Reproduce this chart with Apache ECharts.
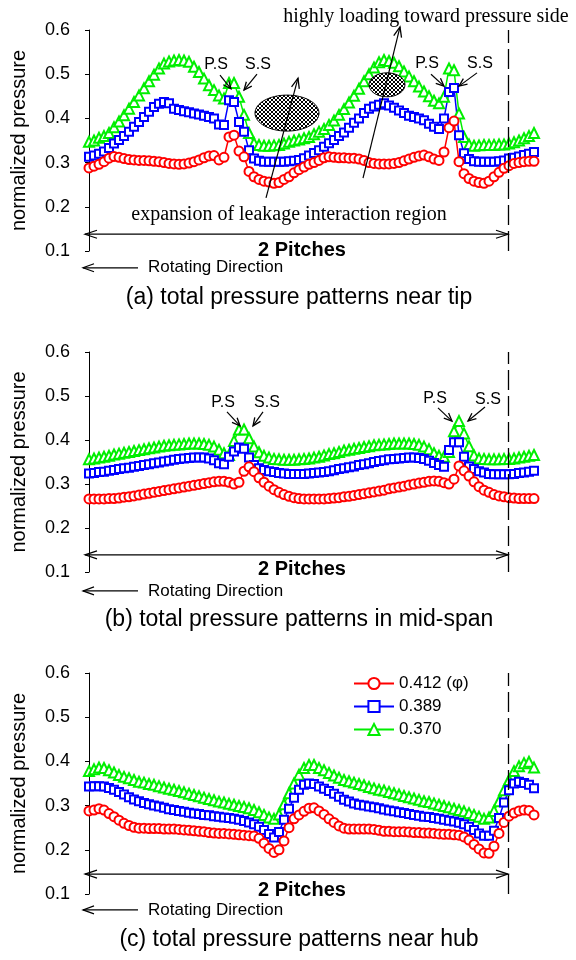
<!DOCTYPE html>
<html lang="en">
<head>
<meta charset="UTF-8">
<title>normalized pressure</title>
<script src="https://cdn.jsdelivr.net/npm/echarts/dist/echarts.min.js"></script>
<style>
  body{ margin:0; background:#fff; }
  #main{ width:576px; height:960px; }
</style>
</head>
<body>
<div id="main"></div>
<script>
// stations across 2 pitches (index), three flow coefficients per span
let xIdx = Array.from({length: 90}, (_, i) => i);
let seriesNames = ['0.412 (\u03c6)', '0.389', '0.370'];
let yTicks = [0.1, 0.2, 0.3, 0.4, 0.5, 0.6];

// (a) near tip
let tipR = [0.288,0.292,0.296,0.302,0.310,0.314,0.312,0.309,0.307,0.306,
            0.305,0.305,0.304,0.303,0.302,0.300,0.298,0.297,0.296,0.297,
            0.299,0.302,0.306,0.311,0.315,0.316,0.306,0.312,0.358,0.362,
            0.326,0.313,0.280,0.268,0.262,0.258,0.256,0.253,0.255,0.262,
            0.268,0.277,0.284,0.290,0.296,0.300,0.305,0.311,0.313,0.312,
            0.311,0.311,0.310,0.310,0.308,0.305,0.300,0.298,0.297,0.297,
            0.297,0.298,0.300,0.304,0.308,0.312,0.315,0.317,0.313,0.308,
            0.305,0.324,0.379,0.394,0.302,0.275,0.264,0.258,0.255,0.253,
            0.258,0.268,0.278,0.287,0.293,0.298,0.300,0.302,0.303,0.303];
let tipB = [0.313,0.316,0.320,0.325,0.333,0.343,0.351,0.360,0.370,0.381,
            0.392,0.403,0.415,0.426,0.433,0.437,0.434,0.422,0.419,0.416,
            0.414,0.411,0.409,0.406,0.403,0.400,0.386,0.385,0.441,0.437,
            0.392,0.370,0.328,0.309,0.304,0.302,0.302,0.302,0.302,0.302,
            0.303,0.304,0.306,0.310,0.316,0.322,0.328,0.336,0.344,0.351,
            0.360,0.368,0.379,0.390,0.400,0.412,0.422,0.427,0.431,0.434,
            0.429,0.424,0.418,0.412,0.406,0.403,0.400,0.396,0.388,0.381,
            0.376,0.400,0.460,0.469,0.362,0.321,0.308,0.303,0.302,0.302,
            0.302,0.302,0.303,0.305,0.309,0.311,0.314,0.317,0.320,0.324];
let tipG = [0.347,0.350,0.356,0.360,0.367,0.380,0.393,0.407,0.422,0.437,
            0.452,0.468,0.484,0.499,0.513,0.524,0.529,0.531,0.532,0.531,
            0.528,0.517,0.505,0.490,0.475,0.464,0.452,0.445,0.480,0.480,
            0.449,0.408,0.367,0.344,0.340,0.338,0.338,0.339,0.340,0.343,
            0.347,0.350,0.352,0.355,0.358,0.364,0.370,0.376,0.385,0.395,
            0.408,0.421,0.436,0.451,0.467,0.484,0.500,0.515,0.527,0.532,
            0.530,0.526,0.518,0.506,0.495,0.484,0.472,0.461,0.450,0.440,
            0.434,0.449,0.513,0.509,0.411,0.358,0.341,0.338,0.339,0.340,
            0.340,0.340,0.341,0.341,0.343,0.346,0.350,0.355,0.360,0.367];

// (b) mid-span
let midR = [0.266,0.266,0.266,0.266,0.267,0.267,0.268,0.270,0.271,0.273,
            0.275,0.277,0.279,0.281,0.283,0.285,0.287,0.289,0.291,0.293,
            0.295,0.297,0.299,0.301,0.303,0.305,0.306,0.306,0.304,0.300,
            0.304,0.329,0.339,0.328,0.314,0.304,0.295,0.287,0.281,0.276,
            0.272,0.269,0.267,0.266,0.266,0.266,0.266,0.266,0.267,0.268,
            0.269,0.271,0.272,0.274,0.276,0.278,0.280,0.282,0.284,0.286,
            0.289,0.291,0.293,0.295,0.298,0.300,0.302,0.304,0.306,0.307,
            0.306,0.303,0.300,0.311,0.341,0.330,0.318,0.305,0.294,0.286,
            0.281,0.276,0.273,0.271,0.269,0.268,0.267,0.267,0.267,0.267];
let midB = [0.324,0.325,0.327,0.328,0.330,0.332,0.334,0.336,0.337,0.339,
            0.341,0.343,0.345,0.347,0.349,0.351,0.353,0.355,0.357,0.358,
            0.359,0.360,0.360,0.360,0.358,0.354,0.347,0.345,0.362,0.374,
            0.383,0.380,0.360,0.343,0.336,0.332,0.329,0.327,0.325,0.324,
            0.323,0.323,0.323,0.323,0.324,0.325,0.326,0.327,0.329,0.331,
            0.334,0.336,0.338,0.340,0.343,0.345,0.347,0.350,0.352,0.354,
            0.356,0.357,0.358,0.359,0.360,0.360,0.359,0.357,0.353,0.348,
            0.343,0.339,0.377,0.395,0.395,0.362,0.340,0.334,0.329,0.326,
            0.323,0.322,0.322,0.322,0.322,0.323,0.325,0.326,0.328,0.330];
let midG = [0.356,0.358,0.360,0.362,0.364,0.367,0.369,0.371,0.373,0.375,
            0.377,0.379,0.381,0.383,0.385,0.387,0.388,0.389,0.390,0.391,
            0.392,0.392,0.392,0.391,0.389,0.385,0.378,0.370,0.366,0.398,
            0.424,0.424,0.404,0.385,0.372,0.364,0.360,0.357,0.356,0.355,
            0.355,0.355,0.356,0.357,0.358,0.360,0.362,0.365,0.368,0.370,
            0.373,0.376,0.378,0.380,0.382,0.384,0.386,0.388,0.389,0.390,
            0.391,0.392,0.392,0.392,0.392,0.391,0.389,0.385,0.379,0.370,
            0.364,0.362,0.373,0.420,0.443,0.415,0.386,0.365,0.358,0.357,
            0.356,0.356,0.356,0.357,0.357,0.358,0.360,0.362,0.364,0.366];

// (c) near hub
let hubR = [0.288,0.290,0.293,0.290,0.282,0.275,0.267,0.260,0.255,0.251,
            0.249,0.249,0.248,0.248,0.248,0.247,0.247,0.247,0.246,0.245,
            0.244,0.243,0.242,0.241,0.239,0.238,0.237,0.237,0.236,0.235,
            0.234,0.233,0.232,0.231,0.226,0.215,0.203,0.194,0.200,0.220,
            0.250,0.270,0.279,0.287,0.294,0.295,0.288,0.280,0.270,0.262,
            0.254,0.249,0.247,0.247,0.247,0.247,0.247,0.246,0.244,0.242,
            0.242,0.241,0.241,0.241,0.240,0.239,0.239,0.238,0.238,0.237,
            0.236,0.235,0.235,0.234,0.233,0.229,0.222,0.212,0.202,0.193,
            0.192,0.208,0.237,0.262,0.276,0.283,0.288,0.290,0.289,0.279];
let hubB = [0.343,0.344,0.344,0.343,0.340,0.336,0.331,0.325,0.319,0.314,
            0.310,0.306,0.303,0.300,0.298,0.295,0.292,0.290,0.288,0.286,
            0.284,0.282,0.281,0.279,0.278,0.276,0.275,0.273,0.272,0.270,
            0.268,0.265,0.262,0.258,0.252,0.245,0.236,0.228,0.240,0.268,
            0.293,0.318,0.336,0.347,0.350,0.349,0.343,0.338,0.333,0.327,
            0.320,0.313,0.309,0.305,0.302,0.300,0.298,0.296,0.294,0.291,
            0.289,0.287,0.285,0.283,0.281,0.279,0.277,0.275,0.274,0.272,
            0.270,0.268,0.266,0.264,0.261,0.258,0.252,0.245,0.237,0.232,
            0.232,0.243,0.272,0.307,0.335,0.350,0.354,0.351,0.347,0.339];
let hubG = [0.378,0.382,0.386,0.385,0.380,0.375,0.369,0.365,0.362,0.358,
            0.354,0.352,0.349,0.347,0.344,0.341,0.338,0.336,0.333,0.330,
            0.327,0.324,0.321,0.318,0.315,0.312,0.309,0.307,0.304,0.302,
            0.299,0.297,0.294,0.290,0.285,0.279,0.273,0.270,0.280,0.303,
            0.328,0.350,0.370,0.385,0.392,0.392,0.385,0.380,0.374,0.368,
            0.363,0.358,0.355,0.352,0.349,0.346,0.342,0.339,0.336,0.334,
            0.331,0.328,0.325,0.322,0.319,0.316,0.313,0.310,0.308,0.305,
            0.302,0.299,0.296,0.293,0.290,0.287,0.283,0.279,0.275,0.270,
            0.273,0.288,0.310,0.335,0.358,0.378,0.389,0.396,0.399,0.386];

let panels = [[tipR, tipB, tipG], [midR, midB, midG], [hubR, hubB, hubG]];
let titles = ['(a) total pressure patterns near tip',
              '(b) total pressure patterns in mid-span',
              '(c) total pressure patterns near hub'];
let pitchEnd = 83.8;

var sans = '"Liberation Sans", Arial, sans-serif';
var serif = '"Liberation Serif", "Times New Roman", serif';
var colors = ['#ff0000', '#0000ff', '#00ee00'];
var symbols = ['emptyCircle', 'emptyRect', 'emptyTriangle'];
var symSizes = [9, 8, 10];
var gridTops = [30, 352, 673];
var gridHeights = [221, 220, 221];

var myChart = echarts.init(document.getElementById('main'));

var grids = [], xAxes = [], yAxes = [], series = [];
panels.forEach(function (set, k) {
  grids.push({ left: 85, top: gridTops[k], width: 460, height: gridHeights[k] });
  xAxes.push({ gridIndex: k, type: 'value', min: -0.8, max: 91.2, show: false });
  yAxes.push({
    gridIndex: k, type: 'value', min: yTicks[0], max: yTicks[yTicks.length - 1], interval: 0.1,
    name: 'normalized pressure', nameLocation: 'middle', nameGap: 56,
    nameTextStyle: { fontSize: 20, color: '#000', fontFamily: sans },
    axisLine: { show: true, lineStyle: { color: '#000', width: 1 } },
    axisTick: { show: true, length: 4, lineStyle: { color: '#000' } },
    axisLabel: { fontSize: 18, color: '#000', fontFamily: sans, margin: 15,
                 formatter: function (v) { return v.toFixed(1); } },
    splitLine: { show: false }
  });
  // draw green first, red last
  [2, 1, 0].forEach(function (s) {
    var item = {
      type: 'line', name: seriesNames[s], xAxisIndex: k, yAxisIndex: k,
      data: set[s].map(function (v, i) { return [xIdx[i], v]; }),
      symbol: symbols[s], symbolSize: symSizes[s],
      lineStyle: { color: colors[s], width: 1.5 },
      itemStyle: { color: colors[s], borderColor: colors[s], borderWidth: 1.3 },
      animation: false, silent: true
    };
    if (s === 2) {
      item.markLine = {
        silent: true, symbol: 'none', label: { show: false },
        lineStyle: { color: '#000', type: [20, 6], width: 1.3 },
        data: [{ xAxis: pitchEnd }]
      };
    }
    series.push(item);
  });
});

option = {
  backgroundColor: '#fff',
  animation: false,
  grid: grids,
  xAxis: xAxes,
  yAxis: yAxes,
  legend: {
    data: seriesNames, orient: 'vertical', left: 348, top: 670,
    itemWidth: 40, itemHeight: 14, itemGap: 6, selectedMode: false,
    textStyle: { fontSize: 17, color: '#000', fontFamily: sans }
  },
  series: series
};
myChart.setOption(option);

// ---- annotations ----
var pitchY = [0.138, 0.139, 0.145];
var pitchLabelY = [0.102, 0.105, 0.109];
var rotY = [0.062, 0.057, 0.064];
var titleY = [-0.006, -0.009, -0.004];
var psLabels = [
  [[25.4, 0.521, 'P.S'], [33.8, 0.521, 'S.S'], [67.6, 0.525, 'P.S'], [78.2, 0.525, 'S.S']],
  [[26.8, 0.486, 'P.S'], [35.6, 0.486, 'S.S'], [69.2, 0.493, 'P.S'], [79.8, 0.491, 'S.S']],
  []
];
var psArrows = [
  [[26.2, 0.498, 28.4, 0.467], [33.6, 0.500, 31.0, 0.464], [68.4, 0.500, 71.0, 0.473], [77.6, 0.503, 74.0, 0.473]],
  [[27.6, 0.464, 30.2, 0.432], [34.8, 0.464, 32.8, 0.432], [69.8, 0.473, 72.6, 0.443], [79.2, 0.475, 75.8, 0.443]],
  []
];

function px(k, x, y) { return myChart.convertToPixel({ gridIndex: k }, [x, y]); }

var g = [];
function addLine(p1, p2, w) {
  g.push({ type: 'line', z: 100, silent: true,
    shape: { x1: p1[0], y1: p1[1], x2: p2[0], y2: p2[1] },
    style: { stroke: '#000', lineWidth: w || 1 } });
}
function addHead(tip, from, len, half, w) {
  var dx = tip[0] - from[0], dy = tip[1] - from[1];
  var d = Math.sqrt(dx * dx + dy * dy);
  var ux = dx / d, uy = dy / d;
  var bx = tip[0] - ux * len, by = tip[1] - uy * len;
  g.push({ type: 'polyline', z: 100, silent: true,
    shape: { points: [[bx - uy * half, by + ux * half], tip, [bx + uy * half, by - ux * half]] },
    style: { stroke: '#000', fill: null, lineWidth: w || 1.2 } });
}
function addText(p, text, size, opts) {
  opts = opts || {};
  g.push({ type: 'text', z: 100, silent: true, x: p[0], y: p[1],
    style: { text: text, fill: '#000', fontSize: size, fontFamily: opts.family || sans,
      fontWeight: opts.weight || 'normal',
      align: opts.align || 'center', textAlign: opts.align || 'center',
      verticalAlign: 'middle', textVerticalAlign: 'middle' } });
}

// cross hatch for the leakage blobs
var hatch = document.createElement('canvas');
hatch.width = 4; hatch.height = 4;
var hc = hatch.getContext('2d');
hc.fillStyle = '#fff'; hc.fillRect(0, 0, 4, 4);
hc.strokeStyle = '#000'; hc.lineWidth = 1;
hc.beginPath(); hc.moveTo(0, 0); hc.lineTo(4, 4); hc.moveTo(4, 0); hc.lineTo(0, 4); hc.stroke();

[0, 1, 2].forEach(function (k) {
  // 2 pitches double arrow
  var a1 = px(k, -0.8, pitchY[k]), a2 = px(k, pitchEnd, pitchY[k]);
  addLine(a1, a2, 1.3);
  addHead(a1, a2, 12, 4);
  addHead(a2, a1, 12, 4);
  addText(px(k, 42.6, pitchLabelY[k]), '2 Pitches', 20, { weight: 'bold' });
  // rotating direction
  var r1 = px(k, 9.8, rotY[k]), r2 = px(k, -1.2, rotY[k]);
  addLine(r1, r2, 1.2);
  addHead(r2, r1, 11, 4);
  addText(px(k, 11.8, rotY[k]), 'Rotating Direction', 17, { align: 'left' });
  addText(px(k, 42, titleY[k]), titles[k], 23);
  psLabels[k].forEach(function (l) { addText(px(k, l[0], l[1]), l[2], 16); });
  psArrows[k].forEach(function (a) {
    var p1 = px(k, a[0], a[1]), p2 = px(k, a[2], a[3]);
    addLine(p1, p2, 1.2);
    addHead(p2, p1, 8, 3.5, 1.3);
  });
});

// leakage blobs and arrows (panel a)
[[39.6, 0.412, 32, 18], [59.6, 0.476, 18, 12]].forEach(function (e) {
  var c = px(0, e[0], e[1]);
  g.push({ type: 'ellipse', z: 99, silent: true,
    shape: { cx: c[0], cy: c[1], rx: e[2], ry: e[3] },
    style: { fill: { image: hatch, repeat: 'repeat' }, stroke: '#000', lineWidth: 1 } });
});
[[35.4, 0.220, 41.8, 0.491], [54.8, 0.265, 62.2, 0.607]].forEach(function (a) {
  var p1 = px(0, a[0], a[1]), p2 = px(0, a[2], a[3]);
  addLine(p1, p2, 1.2);
  addHead(p2, p1, 10, 4, 1.3);
});
addText(px(0, 40, 0.181), 'expansion of leakage interaction region', 20, { family: serif });
addText(px(0, 67.4, 0.629), 'highly loading toward pressure side', 20, { family: serif });

myChart.setOption({ graphic: g });
</script>
</body>
</html>
